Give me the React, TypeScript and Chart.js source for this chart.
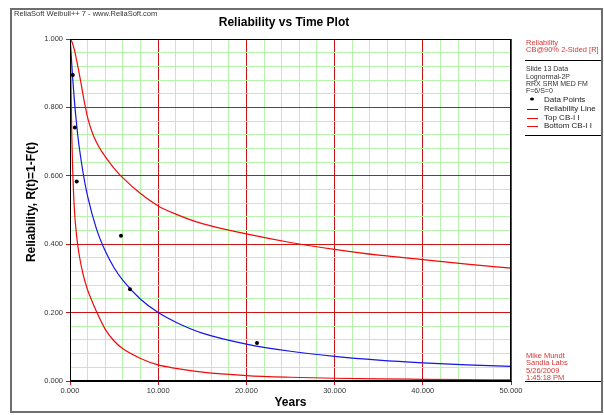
import React, { useEffect, useRef } from 'react';
import { Chart, registerables } from 'chart.js';

Chart.register(...registerables);

// ---- Data (time in years) ----
const xTickLabels = ['0.000', '10.000', '20.000', '30.000', '40.000', '50.000'];
const yTickLabels = ['0.000', '0.200', '0.400', '0.600', '0.800', '1.000'];

const pointT = [0.32, 0.55, 0.76, 5.78, 6.8, 21.2];
const pointR = [0.895, 0.741, 0.583, 0.425, 0.268, 0.111];

const lineT = [0, 0.05, 0.1, 0.2, 0.3, 0.5, 0.75, 1, 1.5, 2, 3, 4, 5, 6, 8, 10, 12, 15, 20, 25, 30, 35, 40, 45, 50];
const lineR = [1.0, 0.988, 0.968, 0.926, 0.887, 0.819, 0.75, 0.693, 0.606, 0.54, 0.445, 0.38, 0.331, 0.294, 0.239, 0.2, 0.172, 0.14, 0.108, 0.087, 0.072, 0.061, 0.053, 0.047, 0.043];

const topT = [0, 0.25, 0.5, 0.75, 1, 1.25, 1.5, 1.75, 2, 2.5, 3, 3.5, 4, 5, 6, 8, 10, 12, 15, 20, 25, 30, 35, 40, 45, 50];
const topR = [1.0, 0.99, 0.968, 0.938, 0.905, 0.87, 0.834, 0.8, 0.77, 0.728, 0.698, 0.675, 0.656, 0.622, 0.594, 0.548, 0.512, 0.488, 0.46, 0.43, 0.405, 0.385, 0.368, 0.355, 0.342, 0.33];

const botT = [0, 0.05, 0.1, 0.2, 0.3, 0.5, 0.75, 1, 1.5, 2, 2.5, 3, 4, 5, 6, 8, 10, 12, 15, 20, 25, 30, 35, 40, 45, 50];
const botR = [1.0, 0.97, 0.88, 0.72, 0.62, 0.5, 0.425, 0.375, 0.31, 0.266, 0.233, 0.203, 0.151, 0.117, 0.094, 0.066, 0.047, 0.037, 0.026, 0.016, 0.011, 0.008, 0.006, 0.005, 0.004, 0.003];

const infoLines = ['Slide 13 Data', 'Lognormal-2P', 'RRX SRM MED FM', 'F=6/S=0'];
const cbLines = ['Reliability', 'CB@90% 2-Sided [R]'];
const authorLines = ['Mike Mundt', 'Sandia Labs', '5/26/2009', '1:45:18 PM'];
const legendNames = ['Data Points', 'Reliability Line', 'Top CB-I I', 'Bottom CB-I I'];

const FONT = "'Liberation Sans', Arial, sans-serif";
const MAJOR = 'rgb(205,20,20)';
const MINOR = 'rgb(180,245,170)';
const CURVE_RED = 'rgb(240,10,10)';
const BLUE = 'rgb(20,20,235)';
const TEXT_RED = 'rgb(215,55,55)';

const zip = (t: number[], r: number[]) => t.map((x, i) => ({ x, y: r[i] }));

const decor = {
  id: 'decor',
  beforeDraw(chart: any) {
    const c = chart.ctx;
    c.save();
    c.fillStyle = '#fff';
    c.fillRect(0, 0, chart.width, chart.height);
    c.restore();
  },
  afterDraw(chart: any) {
    const c = chart.ctx as CanvasRenderingContext2D;
    const a = chart.chartArea;
    c.save();
    // plot border
    c.strokeStyle = '#000';
    c.lineWidth = 1;
    c.strokeRect(Math.round(a.left) + 0.5, Math.round(a.top) + 0.5, Math.round(a.right - a.left) - 1, Math.round(a.bottom - a.top) - 1);
    // outer frame
    c.strokeStyle = '#6e6e6e';
    c.lineWidth = 2;
    c.strokeRect(11, 9, 591, 403);

    // header
    c.fillStyle = '#333';
    c.font = `7.5px ${FONT}`;
    c.textBaseline = 'middle';
    c.textAlign = 'left';
    c.fillText('ReliaSoft Weibull++ 7 - www.ReliaSoft.com', 14, 14);

    // title
    c.fillStyle = '#000';
    c.font = `bold 12px ${FONT}`;
    c.textAlign = 'center';
    c.fillText('Reliability vs Time Plot', 284, 23);

    // x title
    c.font = `bold 12px ${FONT}`;
    c.fillText('Years', (a.left + a.right) / 2, 403);

    // y title
    c.save();
    c.translate(32, 202);
    c.rotate(-Math.PI / 2);
    c.fillText('Reliability, R(t)=1-F(t)', 0, 0);
    c.restore();

    // legend panel
    const lx = 526;
    c.textAlign = 'left';
    c.fillStyle = TEXT_RED;
    c.font = `7.5px ${FONT}`;
    cbLines.forEach((s, i) => c.fillText(s, lx, 43 + i * 7));
    c.strokeStyle = '#000';
    c.lineWidth = 1;
    c.beginPath();
    c.moveTo(525, 60.5); c.lineTo(601, 60.5);
    c.moveTo(525, 135.5); c.lineTo(601, 135.5);
    c.moveTo(525, 381.5); c.lineTo(601, 381.5);
    c.stroke();

    c.fillStyle = '#333';
    c.font = `7px ${FONT}`;
    infoLines.forEach((s, i) => c.fillText(s, lx, 69.5 + i * 7.3));

    const ly = [99.5, 108.5, 117.5, 126];
    c.font = `8px ${FONT}`;
    legendNames.forEach((s, i) => {
      c.fillStyle = '#222';
      c.fillText(s, 544, ly[i]);
      if (i === 0) {
        c.beginPath();
        c.ellipse(532, ly[i] - 0.5, 2, 1.5, 0, 0, Math.PI * 2);
        c.fillStyle = '#000';
        c.fill();
      } else {
        c.strokeStyle = i === 1 ? BLUE : CURVE_RED;
        c.lineWidth = 1;
        c.beginPath();
        c.moveTo(527, Math.round(ly[i]) + 0.5);
        c.lineTo(538, Math.round(ly[i]) + 0.5);
        c.stroke();
      }
    });

    c.fillStyle = TEXT_RED;
    c.font = `7.5px ${FONT}`;
    authorLines.forEach((s, i) => c.fillText(s, lx, 355.5 + i * 7.5));
    c.restore();
  },
};

export default function App() {
  const ref = useRef<HTMLCanvasElement | null>(null);
  useEffect(() => {
    if (!ref.current) return;
    const isMajX = (v: number) => Math.round(v) % 10 === 0;
    const isMajY = (v: number) => Math.round(v * 25) % 5 === 0;
    const chart = new Chart(ref.current, {
      type: 'scatter',
      data: {
        datasets: [
          {
            label: 'Data Points',
            data: zip(pointT, pointR),
            showLine: false,
            pointRadius: 2,
            pointBackgroundColor: '#000',
            pointBorderColor: '#000',
            pointBorderWidth: 0,
            order: 0,
          },
          {
            label: 'Reliability Line',
            data: zip(lineT, lineR),
            showLine: true,
            borderColor: BLUE,
            borderWidth: 1.2,
            pointRadius: 0,
            cubicInterpolationMode: 'monotone',
            order: 1,
          },
          {
            label: 'Top CB-I I',
            data: zip(topT, topR),
            showLine: true,
            borderColor: CURVE_RED,
            borderWidth: 1.2,
            pointRadius: 0,
            cubicInterpolationMode: 'monotone',
            order: 2,
          },
          {
            label: 'Bottom CB-I I',
            data: zip(botT, botR),
            showLine: true,
            borderColor: CURVE_RED,
            borderWidth: 1.2,
            pointRadius: 0,
            cubicInterpolationMode: 'monotone',
            order: 3,
          },
        ],
      } as any,
      options: {
        responsive: false,
        animation: false,
        devicePixelRatio: 1,
        layout: { padding: { left: 0, top: 39, right: 93, bottom: 0 } },
        plugins: { legend: { display: false }, tooltip: { enabled: false }, title: { display: false } },
        scales: {
          x: {
            type: 'linear',
            min: 0,
            max: 50,
            afterFit: (s: any) => { s.height = 34; },
            ticks: {
              stepSize: 2,
              autoSkip: false,
              maxRotation: 0,
              minRotation: 0,
              padding: 1,
              color: '#333',
              font: { family: FONT, size: 7.5 },
              callback: (v: any) => {
                const k = Math.round(Number(v) / 2);
                return k % 5 === 0 ? xTickLabels[k / 5] : '';
              },
            },
            grid: {
              color: (ctx: any) => (ctx.tick && isMajX(ctx.tick.value) ? MAJOR : MINOR),
              tickColor: (ctx: any) => (ctx.tick && isMajX(ctx.tick.value) ? MAJOR : 'rgba(0,0,0,0)'),
              lineWidth: 1,
              tickLength: 4,
            },
            border: { display: true, color: '#000', width: 1 },
          },
          y: {
            type: 'linear',
            min: 0,
            max: 1,
            afterFit: (s: any) => { s.width = 70; },
            ticks: {
              stepSize: 0.04,
              autoSkip: false,
              padding: 3,
              color: '#333',
              font: { family: FONT, size: 7.5 },
              callback: (v: any) => {
                const k = Math.round(Number(v) * 25);
                return k % 5 === 0 ? yTickLabels[k / 5] : '';
              },
            },
            grid: {
              color: (ctx: any) => (ctx.tick && isMajY(ctx.tick.value) ? MAJOR : MINOR),
              tickColor: (ctx: any) => (ctx.tick && isMajY(ctx.tick.value) ? MAJOR : 'rgba(0,0,0,0)'),
              lineWidth: 1,
              tickLength: 4,
            },
            border: { display: true, color: '#000', width: 1 },
          },
        },
      } as any,
      plugins: [decor],
    });
    return () => chart.destroy();
  }, []);
  return (
    <div style={{ position: 'fixed', left: 0, top: 0, width: 604, height: 415, background: '#fff' }}>
      <canvas ref={ref} width={604} height={415} style={{ display: 'block', width: 604, height: 415 }} />
    </div>
  );
}
